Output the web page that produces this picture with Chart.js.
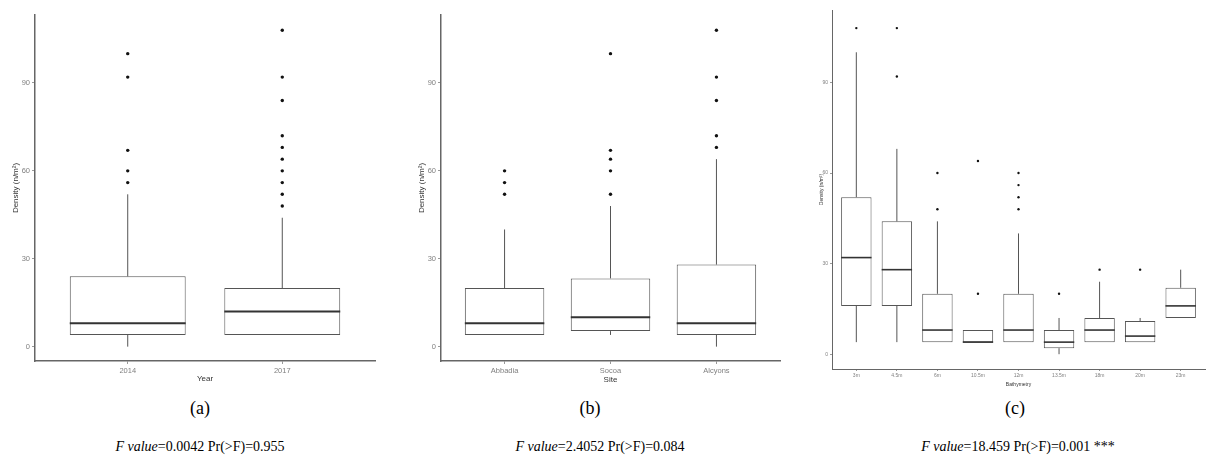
<!DOCTYPE html>
<html>
<head>
<meta charset="utf-8">
<script src="https://cdn.jsdelivr.net/npm/chart.js@4/dist/chart.umd.min.js"></script>
<style>
  body { margin: 0; background: #fff; width: 1209px; height: 467px; overflow: hidden; position: relative; }
  canvas { position: absolute; top: 0; }
  .cap { position: absolute; font-family: "Liberation Serif", serif; color: #000; text-align: center; white-space: nowrap; }
</style>
</head>
<body>
<canvas id="chartA" width="400" height="395" style="left:0"></canvas>
<canvas id="chartB" width="400" height="395" style="left:400px"></canvas>
<canvas id="chartC" width="409" height="395" style="left:800px"></canvas>

<div class="cap" style="left:100px;width:200px;top:398px;font-size:18px">(a)</div>
<div class="cap" style="left:490px;width:200px;top:398px;font-size:18px">(b)</div>
<div class="cap" style="left:915px;width:200px;top:398px;font-size:18px">(c)</div>
<div class="cap" style="left:50px;width:300px;top:439px;font-size:14px"><i>F value</i>=0.0042 Pr(&gt;F)=0.955</div>
<div class="cap" style="left:450px;width:300px;top:439px;font-size:14px"><i>F value</i>=2.4052 Pr(&gt;F)=0.084</div>
<div class="cap" style="left:868px;width:300px;top:439px;font-size:14px"><i>F value</i>=18.459 Pr(&gt;F)=0.001 ***</div>

<script>
'use strict';

// data

const densityTicks = [0, 30, 60, 90];

const yearLabels = ['2014', '2017'];
const yearQ1 = [4, 4];
const yearMedian = [8, 12];
const yearQ3 = [24, 20];
const yearLow = [0, 4];
const yearHigh = [52, 44];
const yearOutliers = [[56, 60, 67, 92, 100], [48, 52, 56, 60, 64, 68, 72, 84, 92, 108]];

const siteLabels = ['Abbadia', 'Socoa', 'Alcyons'];
const siteQ1 = [4, 5.3, 4];
const siteMedian = [8, 10, 8];
const siteQ3 = [20, 23.3, 28];
const siteLow = [4, 4, 0];
const siteHigh = [40, 48, 64];
const siteOutliers = [[52, 56, 60], [52, 60, 64, 67, 100], [68, 72, 84, 92, 108]];

const depthLabels = ['3m', '4.5m', '6m', '10.5m', '12m', '13.5m', '18m', '20m', '23m'];
const depthQ1 = [16, 16, 4, 4, 4, 2, 4, 4, 12];
const depthMedian = [32, 28, 8, 4, 8, 4, 8, 6, 16];
const depthQ3 = [52, 44, 20, 8, 20, 8, 12, 11, 22];
const depthLow = [4, 4, 4, 4, 4, 0, 4, 4, 12];
const depthHigh = [100, 68, 44, 8, 40, 12, 24, 12, 28];
const depthOutliers = [[108], [92, 108], [48, 60], [20, 64], [48, 52, 56, 60], [20], [28], [28], []];

// whiskers and medians, drawn through the chart scales

const whiskerPlugin = {
  id: 'whiskers',
  afterDatasetsDraw(chart) {
    let box = chart.config.options.plugins.whiskers;
    let ctx = chart.ctx;
    let y = chart.scales.y;
    let bars = chart.getDatasetMeta(0).data;
    ctx.save();
    ctx.strokeStyle = '#555';
    ctx.lineWidth = box.lineWidth;
    for (let i = 0; i < bars.length; i++) {
      let bx = bars[i].x;
      ctx.beginPath();
      ctx.moveTo(bx, y.getPixelForValue(box.q3[i]));
      ctx.lineTo(bx, y.getPixelForValue(box.high[i]));
      ctx.moveTo(bx, y.getPixelForValue(box.q1[i]));
      ctx.lineTo(bx, y.getPixelForValue(box.low[i]));
      ctx.stroke();
    }
    ctx.strokeStyle = '#333';
    ctx.lineWidth = box.medianWidth;
    for (let i = 0; i < bars.length; i++) {
      let half = bars[i].width / 2;
      let my = y.getPixelForValue(box.median[i]);
      ctx.beginPath();
      ctx.moveTo(bars[i].x - half, my);
      ctx.lineTo(bars[i].x + half, my);
      ctx.stroke();
    }
    ctx.restore();
  }
};

function makeBoxChart(id, panel) {
  let n = panel.labels.length;
  let boxes = [];
  let points = [];
  for (let i = 0; i < n; i++) {
    boxes.push({ x: i, y: [panel.q1[i], panel.q3[i]] });
    for (let v of panel.outliers[i]) {
      points.push({ x: i, y: v });
    }
  }

  const config = {
    type: 'bar',
    data: {
      datasets: [{
        data: boxes,
        backgroundColor: '#ffffff',
        borderColor: '#555',
        borderWidth: panel.lineWidth,
        borderSkipped: false,
        categoryPercentage: 1,
        barPercentage: 0.75
      },
      {
        type: 'line',
        data: points,
        showLine: false,
        pointRadius: panel.dot,
        pointBackgroundColor: '#111',
        pointBorderWidth: 0
      }]
    },
    options: {
      responsive: false,
      animation: false,
      layout: { padding: panel.padding },
      plugins: {
        legend: { display: false },
        tooltip: { enabled: false },
        whiskers: {
          q1: panel.q1, q3: panel.q3, median: panel.median,
          low: panel.low, high: panel.high,
          lineWidth: panel.lineWidth, medianWidth: panel.medianWidth
        }
      },
      scales: {
        x: {
          type: 'linear',
          offset: false,
          min: -0.6,
          max: n - 0.4,
          afterBuildTicks: (scale) => { scale.ticks = panel.labels.map((l, i) => ({ value: i })); },
          afterFit: (scale) => { scale.height = panel.xHeight; },
          ticks: {
            callback: (v) => panel.labels[v],
            font: { family: 'Liberation Sans', size: panel.tickSize },
            color: '#808080',
            padding: 2,
            maxRotation: 0
          },
          grid: { display: true, offset: false, drawOnChartArea: false, tickLength: panel.tickLen, color: '#999' },
          border: { display: true, color: '#666', width: panel.axisWidth },
          title: {
            display: true,
            text: panel.xTitle,
            font: { family: 'Liberation Sans', size: panel.titleSize },
            color: '#333',
            padding: { top: 0, bottom: panel.xTitlePad }
          }
        },
        y: {
          min: panel.yMin,
          max: panel.yMax,
          afterBuildTicks: (scale) => { scale.ticks = densityTicks.map(v => ({ value: v })); },
          afterFit: (scale) => { scale.width = panel.yWidth; },
          ticks: {
            font: { family: 'Liberation Sans', size: panel.tickSize },
            color: '#808080',
            padding: 2
          },
          grid: { display: true, drawOnChartArea: false, tickLength: panel.tickLen, color: '#999' },
          border: { display: true, color: '#666', width: panel.axisWidth },
          title: {
            display: true,
            text: 'Density (n/m²)',
            font: { family: 'Liberation Sans', size: panel.titleSize },
            color: '#333',
            padding: { top: panel.yTitlePad, bottom: 0 }
          }
        }
      }
    },
    plugins: [whiskerPlugin]
  };
  return new Chart(document.getElementById(id), config);
}

// executable code

makeBoxChart('chartA', {
  labels: yearLabels, q1: yearQ1, median: yearMedian, q3: yearQ3,
  low: yearLow, high: yearHigh, outliers: yearOutliers,
  xTitle: 'Year', yMin: -4.9, yMax: 113.2,
  padding: { left: 0, top: 15, right: 25, bottom: 0 },
  yWidth: 35, xHeight: 34, xTitlePad: 11, yTitlePad: 11,
  tickSize: 7.5, titleSize: 8, tickLen: 3, dot: 1.7,
  lineWidth: 1, medianWidth: 2, axisWidth: 1.5
});

makeBoxChart('chartB', {
  labels: siteLabels, q1: siteQ1, median: siteMedian, q3: siteQ3,
  low: siteLow, high: siteHigh, outliers: siteOutliers,
  xTitle: 'Site', yMin: -4.9, yMax: 113.2,
  padding: { left: 0, top: 15, right: 20, bottom: 0 },
  yWidth: 41, xHeight: 34, xTitlePad: 10, yTitlePad: 17,
  tickSize: 7.5, titleSize: 8, tickLen: 3, dot: 1.7,
  lineWidth: 1, medianWidth: 2, axisWidth: 1.5
});

makeBoxChart('chartC', {
  labels: depthLabels, q1: depthQ1, median: depthMedian, q3: depthQ3,
  low: depthLow, high: depthHigh, outliers: depthOutliers,
  xTitle: 'Bathymetry', yMin: -4.9, yMax: 114,
  padding: { left: 0, top: 10, right: 0, bottom: 0 },
  yWidth: 32, xHeight: 26, xTitlePad: 7, yTitlePad: 19,
  tickSize: 5, titleSize: 5, tickLen: 2, dot: 1.2,
  lineWidth: 1, medianWidth: 1.6, axisWidth: 1
});
</script>
</body>
</html>
